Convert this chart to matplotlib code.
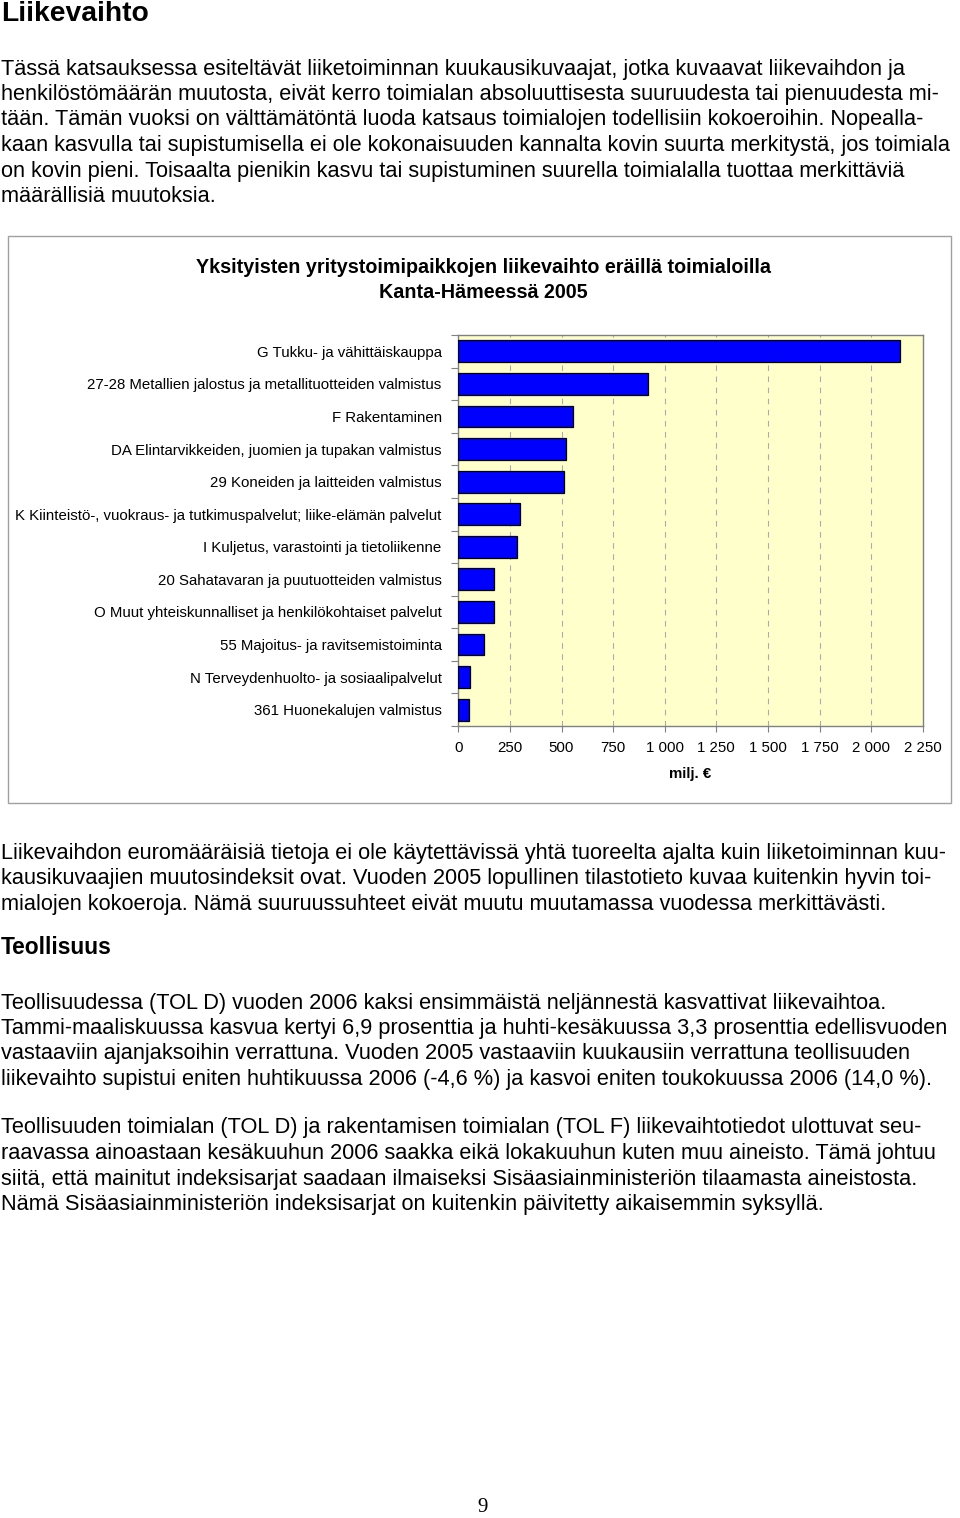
import matplotlib
matplotlib.use("Agg")
import matplotlib.pyplot as plt
from matplotlib.patches import Rectangle

# ---------------- data ----------------
categories = [
    "G Tukku- ja vähittäiskauppa",
    "27-28 Metallien jalostus ja metallituotteiden valmistus",
    "F Rakentaminen",
    "DA Elintarvikkeiden, juomien ja tupakan valmistus",
    "29 Koneiden ja laitteiden valmistus",
    "K Kiinteistö-, vuokraus- ja tutkimuspalvelut; liike-elämän palvelut",
    "I Kuljetus, varastointi ja tietoliikenne",
    "20 Sahatavaran ja puutuotteiden valmistus",
    "O Muut yhteiskunnalliset ja henkilökohtaiset palvelut",
    "55 Majoitus- ja ravitsemistoiminta",
    "N Terveydenhuolto- ja sosiaalipalvelut",
    "361 Huonekalujen valmistus",
]
values = [2140, 919, 555, 520, 514, 297, 284, 175, 173, 126, 57, 50]
x_ticks = [0, 250, 500, 750, 1000, 1250, 1500, 1750, 2000, 2250]
x_tick_labels = ["0", "250", "500", "750", "1 000", "1 250", "1 500", "1 750", "2 000", "2 250"]

chart_title = "Yksityisten yritystoimipaikkojen liikevaihto eräillä toimialoilla\nKanta-Hämeessä 2005"
x_label = "milj. €"

heading1 = "Liikevaihto"
para1 = [
    "Tässä katsauksessa esiteltävät liiketoiminnan kuukausikuvaajat, jotka kuvaavat liikevaihdon ja",
    "henkilöstömäärän muutosta, eivät kerro toimialan absoluuttisesta suuruudesta tai pienuudesta mi-",
    "tään. Tämän vuoksi on välttämätöntä luoda katsaus toimialojen todellisiin kokoeroihin. Nopealla-",
    "kaan kasvulla tai supistumisella ei ole kokonaisuuden kannalta kovin suurta merkitystä, jos toimiala",
    "on kovin pieni. Toisaalta pienikin kasvu tai supistuminen suurella toimialalla tuottaa merkittäviä",
    "määrällisiä muutoksia.",
]
para2 = [
    "Liikevaihdon euromääräisiä tietoja ei ole käytettävissä yhtä tuoreelta ajalta kuin liiketoiminnan kuu-",
    "kausikuvaajien muutosindeksit ovat. Vuoden 2005 lopullinen tilastotieto kuvaa kuitenkin hyvin toi-",
    "mialojen kokoeroja. Nämä suuruussuhteet eivät muutu muutamassa vuodessa merkittävästi.",
]
heading2 = "Teollisuus"
para3 = [
    "Teollisuudessa (TOL D) vuoden 2006 kaksi ensimmäistä neljännestä kasvattivat liikevaihtoa.",
    "Tammi-maaliskuussa kasvua kertyi 6,9 prosenttia ja huhti-kesäkuussa 3,3 prosenttia edellisvuoden",
    "vastaaviin ajanjaksoihin verrattuna. Vuoden 2005 vastaaviin kuukausiin verrattuna teollisuuden",
    "liikevaihto supistui eniten huhtikuussa 2006 (-4,6 %) ja kasvoi eniten toukokuussa 2006 (14,0 %).",
]
para4 = [
    "Teollisuuden toimialan (TOL D) ja rakentamisen toimialan (TOL F) liikevaihtotiedot ulottuvat seu-",
    "raavassa ainoastaan kesäkuuhun 2006 saakka eikä lokakuuhun kuten muu aineisto. Tämä johtuu",
    "siitä, että mainitut indeksisarjat saadaan ilmaiseksi Sisäasiainministeriön tilaamasta aineistosta.",
    "Nämä Sisäasiainministeriön indeksisarjat on kuitenkin päivitetty aikaisemmin syksyllä.",
]
page_number = "9"

# ---------------- figure ----------------
W, H = 960, 1518
plt.rcParams['font.family'] = ['Liberation Sans', 'DejaVu Sans']
fig = plt.figure(figsize=(W / 100, H / 100), dpi=100)
fig.patch.set_facecolor("white")


def px(x, y):
    return x / W, 1 - y / H


BODY = 15.65
LINE = 25.5


def body_lines(lines, y0):
    for i, t in enumerate(lines):
        fig.text(*px(1, y0 + i * LINE), t, fontsize=BODY, ha="left", va="center")


fig.text(*px(1, 14), heading1, fontsize=20.3, fontweight="bold", ha="left", va="center")
body_lines(para1, 69)

# chart frame (behind the axes)
frame = Rectangle(px(8, 803), (951 - 8) / W, (803 - 236) / H, transform=fig.transFigure,
                  facecolor="white", edgecolor="#a0a0a0", linewidth=1.0, zorder=-10)
fig.patches.append(frame)

fig.text(*px(483, 280), chart_title, fontsize=14.2, fontweight="bold", ha="center", va="center",
         linespacing=1.45)

ax_l, ax_r, ax_t, ax_b = 458.3, 922.7, 335, 726
ax = fig.add_axes([ax_l / W, 1 - ax_b / H, (ax_r - ax_l) / W, (ax_b - ax_t) / H])
ax.set_facecolor("#FFFFCC")
ypos = list(range(len(categories)))
ax.barh(ypos, values, height=0.67, color="#0000FF", edgecolor="black", linewidth=0.9, zorder=3)
ax.set_ylim(len(categories) - 0.5, -0.5)
ax.set_xlim(x_ticks[0], x_ticks[-1])

# y: tick marks at category boundaries, labels at centres
ax.set_yticks([i - 0.5 for i in range(len(categories) + 1)])
ax.set_yticklabels([])
ax.set_yticks(ypos, minor=True)
ax.set_yticklabels(categories, minor=True, fontsize=10.8)
ax.tick_params(axis="y", which="major", length=5, color="#808080", direction="out")
ax.tick_params(axis="y", which="minor", length=0, pad=12)

ax.set_xticks(x_ticks)
ax.set_xticklabels(x_tick_labels, fontsize=10.8)
ax.tick_params(axis="x", length=4, color="#808080", direction="out", pad=7)

for g in x_ticks[1:-1]:
    ax.axvline(g, color="#ababab", linewidth=0.8, dashes=(5, 5), zorder=1)

for s in ax.spines.values():
    s.set_color("#808080")
    s.set_linewidth(1.0)

fig.text(*px(690, 774), x_label, fontsize=10.8, fontweight="bold", ha="center", va="center")

body_lines(para2, 853)
fig.text(*px(1, 947), heading2, fontsize=16.4, fontweight="bold", ha="left", va="center")
body_lines(para3, 1003)
body_lines(para4, 1128)

fig.text(*px(483, 1508), page_number, fontsize=15, family=["Liberation Serif", "DejaVu Serif"],
         ha="center", va="center")

fig.savefig("out.png", dpi=100, facecolor="white")
